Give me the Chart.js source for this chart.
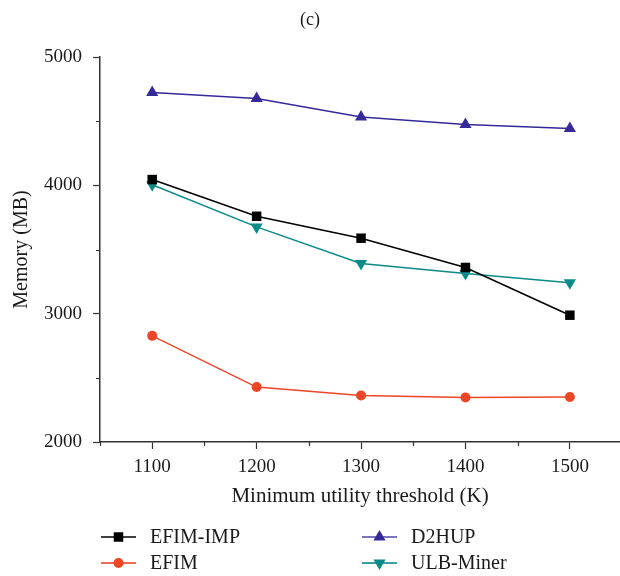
<!DOCTYPE html>
<html>
<head>
<meta charset="utf-8">
<script src="https://cdn.jsdelivr.net/npm/chart.js@4.4.1/dist/chart.umd.min.js"></script>
<style>
  html, body { margin: 0; padding: 0; background: #fff; }
  #wrap { width: 620px; height: 576px; }
</style>
</head>
<body>
<div id="wrap"><canvas id="chart" width="620" height="576"></canvas></div>
<script>
// data
const thresholds = [1100, 1200, 1300, 1400, 1500];
const efimImp = [4045, 3759, 3588, 3360, 2988];
const efim = [2827, 2428, 2363, 2347, 2350];
const d2hup = [4723, 4676, 4533, 4474, 4442];
const ulbMiner = [4005, 3676, 3391, 3313, 3240];

const xTicks = [1100, 1200, 1300, 1400, 1500];
const xMinorTicks = [1050, 1150, 1250, 1350, 1450];
const yTicks = [2000, 3000, 4000, 5000];
const yMinorTicks = [2500, 3500, 4500];

const FONT = "'Liberation Serif', 'DejaVu Serif', serif";
Chart.defaults.font.family = FONT;
Chart.defaults.color = '#1a1a1a';

const toPoints = vals => vals.map((v, i) => ({ x: thresholds[i], y: v }));

const series = [
    { label: 'EFIM-IMP', data: efimImp, color: '#000000', legendLine: 'rgba(0,0,0,0.75)', style: 'rect', radius: 6.7, rotation: 0 },
    { label: 'EFIM', data: efim, color: '#ee4527', legendLine: 'rgba(238,69,39,0.8)', style: 'circle', radius: 5, rotation: 0 },
    { label: 'D2HUP', data: d2hup, color: '#35299a', legendLine: 'rgba(53,41,154,0.65)', style: 'triangle', radius: 7, rotation: 0 },
    { label: 'ULB-Miner', data: ulbMiner, color: '#0a8a88', legendLine: 'rgba(10,138,136,0.8)', style: 'triangle', radius: 7, rotation: 180 }
];

// title, minor ticks and two-column legend
const extras = {
    id: 'extras',
    afterDraw(chart) {
        const ctx = chart.ctx;
        const xs = chart.scales.x, ys = chart.scales.y;
        ctx.save();
        ctx.strokeStyle = '#333';
        ctx.lineWidth = 1.2;
        ctx.beginPath();
        yMinorTicks.forEach(v => {
            const py = Math.round(ys.getPixelForValue(v)) + 0.5;
            ctx.moveTo(xs.left - 4, py);
            ctx.lineTo(xs.left, py);
        });
        xMinorTicks.forEach(v => {
            const px = Math.round(xs.getPixelForValue(v)) + 0.5;
            ctx.moveTo(px, ys.bottom);
            ctx.lineTo(px, ys.bottom + 4);
        });
        ctx.stroke();

        // panel label
        ctx.fillStyle = '#1a1a1a';
        ctx.font = '18px ' + FONT;
        ctx.textAlign = 'center';
        ctx.textBaseline = 'middle';
        ctx.fillText('(c)', chart.width / 2, 20);

        // legend
        ctx.font = '20px ' + FONT;
        ctx.textAlign = 'left';
        const colX = [101, 362];
        const rowY = [537, 563];
        chart.data.datasets.forEach((ds, i) => {
            const s = series[i];
            const x0 = colX[Math.floor(i / 2)];
            const y0 = rowY[i % 2];
            ctx.strokeStyle = s.legendLine;
            ctx.lineWidth = 2;
            ctx.beginPath();
            ctx.moveTo(x0, y0);
            ctx.lineTo(x0 + 35, y0);
            ctx.stroke();
            ctx.fillStyle = s.color;
            Chart.helpers.drawPoint(ctx, { pointStyle: s.style, radius: s.radius, rotation: s.rotation, borderWidth: 0 }, x0 + 17.5, y0);
            ctx.fillStyle = '#1a1a1a';
            ctx.fillText(ds.label, x0 + 49, y0 + 1);
        });
        ctx.restore();
    }
};

new Chart(document.getElementById('chart').getContext('2d'), {
    type: 'line',
    data: {
        datasets: series.map(s => ({
            label: s.label,
            data: toPoints(s.data),
            borderColor: s.color,
            backgroundColor: s.color,
            borderWidth: 1.5,
            pointStyle: s.style,
            pointRadius: s.radius,
            pointRotation: s.rotation,
            pointBorderWidth: 0,
            tension: 0,
            fill: false,
            clip: false
        }))
    },
    options: {
        responsive: false,
        animation: false,
        devicePixelRatio: 1,
        layout: { autoPadding: false, padding: { top: 57, bottom: 64, left: 0, right: 0 } },
        plugins: {
            legend: { display: false },
            title: { display: false },
            tooltip: { enabled: false }
        },
        scales: {
            x: {
                type: 'linear',
                min: 1050,
                max: 1548,
                afterBuildTicks: scale => { scale.ticks = xTicks.map(v => ({ value: v })); },
                afterFit: scale => { scale.height = 70; scale.paddingLeft = 0; scale.paddingRight = 0; },
                ticks: {
                    font: { size: 19 },
                    padding: 7,
                    maxRotation: 0,
                    callback: v => String(v)
                },
                grid: { drawOnChartArea: false, drawTicks: true, tickLength: 7, tickColor: '#333', tickWidth: 1.2 },
                border: { color: '#333', width: 1.5 },
                title: {
                    display: true,
                    text: 'Minimum utility threshold (K)',
                    font: { size: 21 },
                    padding: { top: 0, bottom: 3 }
                }
            },
            y: {
                type: 'linear',
                min: 2000,
                max: 5000,
                afterBuildTicks: scale => { scale.ticks = yTicks.map(v => ({ value: v })); },
                afterFit: scale => { scale.width = 100; },
                ticks: {
                    font: { size: 19 },
                    padding: 11,
                    callback: v => String(v)
                },
                grid: { drawOnChartArea: false, drawTicks: true, tickLength: 7, tickColor: '#333', tickWidth: 1.2 },
                border: { color: '#333', width: 1.5 },
                title: {
                    display: true,
                    text: 'Memory (MB)',
                    font: { size: 20 },
                    padding: { top: 10, bottom: 0 }
                }
            }
        }
    },
    plugins: [extras]
});
</script>
</body>
</html>
